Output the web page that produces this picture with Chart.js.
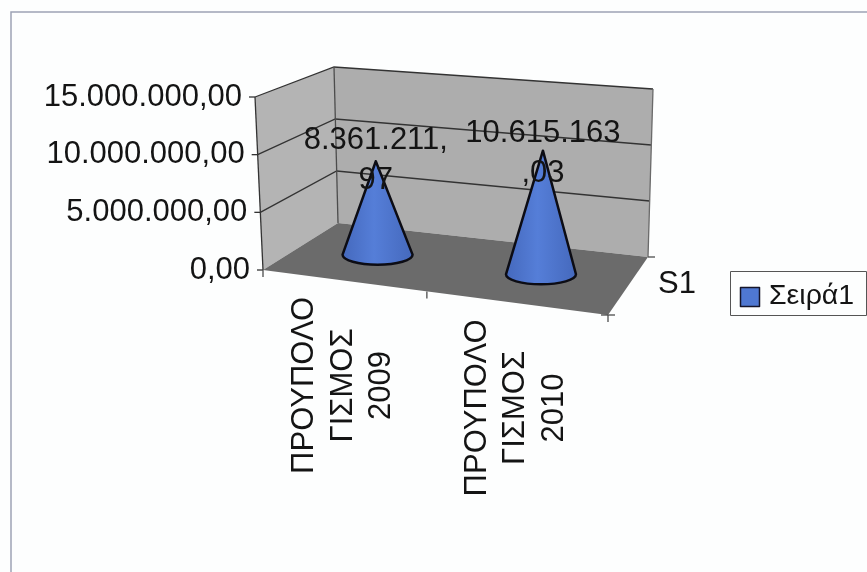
<!DOCTYPE html>
<html>
<head>
<meta charset="utf-8">
<script src="https://cdn.jsdelivr.net/npm/chart.js@4"></script>
<style>
  html, body { margin: 0; padding: 0; background: #fdfefe; overflow: hidden; }
  #wrap { position: relative; width: 867px; height: 572px; }
  /* the original is a scan, so everything is a little soft */
  canvas { filter: blur(0.6px); }
</style>
</head>
<body>
<div id="wrap"><canvas id="myChart" width="867" height="572"></canvas></div>
<script>
let categories = [
  ['ΠΡΟΥΠΟΛΟ', 'ΓΙΣΜΟΣ', '2009'],
  ['ΠΡΟΥΠΟΛΟ', 'ΓΙΣΜΟΣ', '2010']
];
let seriesName = 'Σειρά1';
let depthLabel = 'S1';
let seriesValues = [8361211.97, 10615163.03];
let yMax = 15000000;
let yStep = 5000000;

const FONT = '31px "Liberation Sans", Arial, sans-serif';
const LEGEND_FONT = '28.5px "Liberation Sans", Arial, sans-serif';
const SERIES_COLOR = '#4f78d2';
const LABEL_NUDGE = [1, 5];

// greek number format, 1.234,56
function fmt(v) {
  return v.toLocaleString('el-GR', {minimumFractionDigits: 2, maximumFractionDigits: 2});
}

// the 3d box, [bottom, top] for every corner of the walls
const box = {
  frontLeft: [[263, 270], [255, 97]],
  frontRight: [[608, 315], [615, 125]],
  backLeft: [[338, 223], [334, 67]],
  backRight: [[648, 257], [653, 89]]
};

function lerp(a, b, t) {
  return [a[0] + (b[0] - a[0]) * t, a[1] + (b[1] - a[1]) * t];
}

// u along the categories, d into the depth, h up the value axis (all 0..1)
function project(u, d, h) {
  let w = u - 0.1 * u * (1 - u);
  let fl = lerp(box.frontLeft[0], box.frontLeft[1], h);
  let fr = lerp(box.frontRight[0], box.frontRight[1], h);
  let bl = lerp(box.backLeft[0], box.backLeft[1], h);
  let br = lerp(box.backRight[0], box.backRight[1], h);
  return lerp(lerp(fl, fr, w), lerp(bl, br, w), d);
}

function poly(ctx, pts, fill, stroke) {
  ctx.beginPath();
  pts.forEach((p, i) => i ? ctx.lineTo(p[0], p[1]) : ctx.moveTo(p[0], p[1]));
  if (fill) {
    ctx.closePath();
    ctx.fillStyle = fill;
    ctx.fill();
  }
  if (stroke) {
    ctx.strokeStyle = stroke;
    ctx.stroke();
  }
}

function wrapText(ctx, text, maxWidth) {
  let lines = [''];
  for (let ch of text) {
    let last = lines[lines.length - 1];
    if (ctx.measureText(last + ch).width > maxWidth) lines.push(ch);
    else lines[lines.length - 1] = last + ch;
  }
  return lines;
}

const walls3d = {
  id: 'walls3d',
  beforeDatasetsDraw(chart) {
    let ctx = chart.ctx;
    let yScale = chart.scales.y;
    ctx.save();

    // frame of the chart object
    ctx.strokeStyle = '#9da3b5';
    ctx.lineWidth = 1.5;
    ctx.beginPath();
    ctx.moveTo(11, 572);
    ctx.lineTo(11, 12);
    ctx.lineTo(867, 12);
    ctx.stroke();

    // walls and floor
    ctx.lineWidth = 1;
    poly(ctx, [project(0, 0, 0), project(0, 1, 0), project(0, 1, 1), project(0, 0, 1)], '#b4b4b4');
    poly(ctx, [project(0, 1, 0), project(1, 1, 0), project(1, 1, 1), project(0, 1, 1)], '#adadad');
    poly(ctx, [project(0, 0, 0), project(1, 0, 0), project(1, 1, 0), project(0, 1, 0)], '#6b6b6b');

    // gridlines from the value axis
    ctx.lineWidth = 1.3;
    yScale.ticks.forEach(t => {
      let h = (yScale.bottom - yScale.getPixelForValue(t.value)) / yScale.height;
      if (h > 0) poly(ctx, [project(0, 0, h), project(0, 1, h), project(1, 1, h)], null, '#333');
      let p = project(0, 0, h);
      poly(ctx, [[p[0] - 6, p[1]], p], null, '#333');
    });

    // box edges
    poly(ctx, [project(0, 0, 1), project(0, 0, 0)], null, '#333');
    poly(ctx, [project(0, 1, 0), project(0, 1, 1)], null, '#4c4c4c');
    poly(ctx, [project(1, 1, 0), project(1, 1, 1)], null, '#6a6a6a');

    // category axis ticks (between the categories) and depth axis ticks
    [0, 0.5, 1].forEach(u => {
      let p = project(u, 0, 0);
      poly(ctx, [p, [p[0], p[1] + 7]], null, '#4c4c4c');
    });
    let fr = project(1, 0, 0);
    let br = project(1, 1, 0);
    poly(ctx, [[fr[0] - 7, fr[1]], [fr[0] + 7, fr[1]]], null, '#4c4c4c');
    poly(ctx, [br, [br[0] + 7, br[1]]], null, '#4c4c4c');

    ctx.restore();
  },
  afterDatasetsDraw(chart) {
    let ctx = chart.ctx;
    let area = chart.chartArea;
    let yScale = chart.scales.y;
    let xScale = chart.scales.x;
    let meta = chart.getDatasetMeta(0);
    ctx.save();

    // cones, placed from the bar elements
    meta.data.forEach(bar => {
      let u = (bar.x - area.left) / area.width;
      let h = (yScale.bottom - bar.y) / yScale.height;
      let c = project(u, 0.52, 0);
      let apex = project(u, 0.52, h);
      let rx = 35, ry = 10;
      let grad = ctx.createLinearGradient(c[0] - rx, 0, c[0] + rx, 0);
      grad.addColorStop(0, '#4569bd');
      grad.addColorStop(0.45, '#557ed8');
      grad.addColorStop(1, '#4569bd');
      ctx.beginPath();
      ctx.moveTo(apex[0], apex[1]);
      ctx.lineTo(c[0] - rx, c[1]);
      ctx.ellipse(c[0], c[1], rx, ry, 0, Math.PI, 0, true);
      ctx.closePath();
      ctx.fillStyle = grad;
      ctx.fill();
      ctx.lineWidth = 2.5;
      ctx.lineJoin = 'round';
      ctx.strokeStyle = '#0c0c14';
      ctx.stroke();
    });

    ctx.font = FONT;
    ctx.fillStyle = '#141414';
    ctx.textBaseline = 'middle';

    // value labels, wrapped like the original
    ctx.textAlign = 'center';
    meta.data.forEach((bar, i) => {
      let u = (bar.x - area.left) / area.width;
      let h = (yScale.bottom - bar.y) / yScale.height;
      let apex = project(u, 0.52, h);
      wrapText(ctx, fmt(seriesValues[i]), 160).forEach((line, k) => {
        ctx.fillText(line, apex[0], apex[1] - 22 + LABEL_NUDGE[i] + k * 40);
      });
    });

    // value axis labels follow the leaning edge
    ctx.textAlign = 'right';
    yScale.ticks.forEach(t => {
      let h = (yScale.bottom - yScale.getPixelForValue(t.value)) / yScale.height;
      let p = project(0, 0, h);
      ctx.fillText(t.label, p[0] - 13, p[1]);
    });

    // category labels, rotated, under the slanted front edge
    xScale.ticks.forEach((t, i) => {
      let u = (xScale.getPixelForTick(i) - area.left) / area.width;
      let p = project(u, 0, 0);
      let cy = p[1] + 105;
      t.label.forEach((line, k) => {
        ctx.save();
        ctx.translate(p[0] - 38 + k * 38.5, cy);
        ctx.rotate(-Math.PI / 2);
        ctx.textAlign = 'center';
        ctx.fillText(line, 0, 0);
        ctx.restore();
      });
    });

    // depth axis label
    ctx.textAlign = 'left';
    ctx.fillText(depthLabel, 658, 284);

    // legend
    ctx.strokeStyle = '#555';
    ctx.lineWidth = 1;
    ctx.strokeRect(730.5, 271.5, 136, 44);
    ctx.fillStyle = SERIES_COLOR;
    ctx.fillRect(740.5, 287.5, 19, 19);
    ctx.lineWidth = 1.5;
    ctx.strokeStyle = '#15152a';
    ctx.strokeRect(740.5, 287.5, 19, 19);
    ctx.fillStyle = '#141414';
    ctx.font = LEGEND_FONT;
    ctx.fillText(chart.data.datasets[0].label, 769, 296);

    ctx.restore();
  }
};

let ctx = document.getElementById('myChart').getContext('2d');
let myChart = new Chart(ctx, {
  type: 'bar',
  data: {
    labels: categories,
    datasets: [{
      label: seriesName,
      data: seriesValues,
      // the bars only carry the positions, the cones are painted over them
      backgroundColor: 'rgba(0,0,0,0)',
      borderWidth: 0
    }]
  },
  options: {
    animation: false,
    responsive: false,
    layout: {padding: {left: 263, right: 259, top: 97, bottom: 302}},
    plugins: {legend: {display: false}, tooltip: {enabled: false}},
    scales: {
      x: {
        ticks: {display: false},
        grid: {display: false},
        border: {display: false}
      },
      y: {
        min: 0,
        max: yMax,
        ticks: {display: false, stepSize: yStep, callback: v => fmt(v)},
        grid: {display: false},
        border: {display: false}
      }
    }
  },
  plugins: [walls3d]
});
</script>
</body>
</html>
